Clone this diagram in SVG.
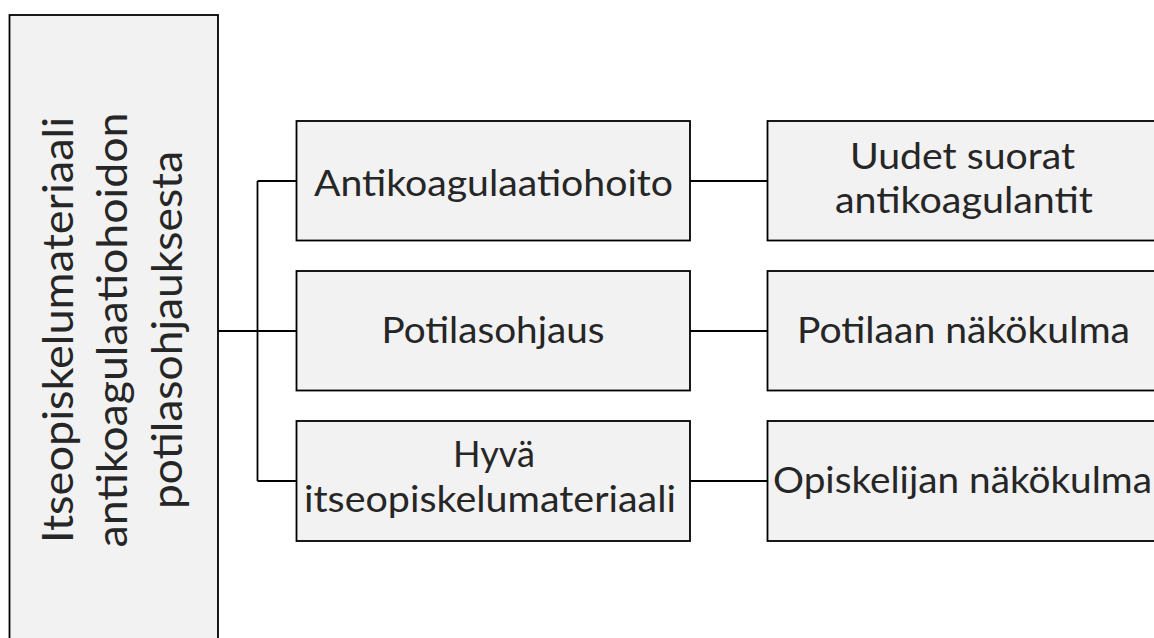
<svg xmlns="http://www.w3.org/2000/svg" width="1154" height="638" viewBox="0 0 1154 638">
<style>
.box{fill:#f2f2f2;stroke:#000;stroke-width:1.8}
.t{font-family:Lato,"Open Sans","Liberation Sans",sans-serif;font-size:37px;fill:#262626;text-anchor:middle}
.tv{font-family:Lato,"Open Sans","Liberation Sans",sans-serif;font-size:42px;fill:#262626;text-anchor:middle}
.c{fill:none;stroke:#000;stroke-width:1.8}
</style>
<rect width="1154" height="638" fill="#fff"/>
<g id="connectors">
<path class="c" d="M218 331H257.5M257.5 181V481M257.5 181H296.5M257.5 331H296.5M257.5 481H296.5"/>
<path class="c" d="M690 181H767.5M690 331H767.5M690 481H767.5"/>
</g>
<g id="root">
<rect class="box" x="9.5" y="15" width="208.5" height="650"/>
<text class="tv" transform="translate(73,330) rotate(-90)" textLength="426" lengthAdjust="spacingAndGlyphs">Itseopiskelumateriaali</text>
<text class="tv" transform="translate(127,330) rotate(-90)" textLength="435" lengthAdjust="spacingAndGlyphs">antikoagulaatiohoidon</text>
<text class="tv" transform="translate(182,330) rotate(-90)" textLength="358" lengthAdjust="spacingAndGlyphs">potilasohjauksesta</text>
</g>
<g id="n1">
<rect class="box" x="296.5" y="121" width="393.5" height="119.5"/>
<text class="t" x="493.5" y="196" textLength="359" lengthAdjust="spacingAndGlyphs">Antikoagulaatiohoito</text>
</g>
<g id="n2">
<rect class="box" x="296.5" y="271" width="393.5" height="119.5"/>
<text class="t" x="493" y="343" textLength="223" lengthAdjust="spacingAndGlyphs">Potilasohjaus</text>
</g>
<g id="n3">
<rect class="box" x="296.5" y="421" width="393.5" height="120"/>
<text class="t" x="494" y="467" textLength="82" lengthAdjust="spacingAndGlyphs">Hyvä</text>
<text class="t" x="490" y="512" textLength="372" lengthAdjust="spacingAndGlyphs">itseopiskelumateriaali</text>
</g>
<g id="r1">
<rect class="box" x="767.5" y="121" width="400" height="119.5"/>
<text class="t" x="962.5" y="169" textLength="225" lengthAdjust="spacingAndGlyphs">Uudet suorat</text>
<text class="t" x="964" y="213" textLength="258" lengthAdjust="spacingAndGlyphs">antikoagulantit</text>
</g>
<g id="r2">
<rect class="box" x="767.5" y="271" width="400" height="119.5"/>
<text class="t" x="963.5" y="343" textLength="333" lengthAdjust="spacingAndGlyphs">Potilaan näkökulma</text>
</g>
<g id="r3">
<rect class="box" x="767.5" y="421" width="400" height="120"/>
<text class="t" x="962.5" y="493" textLength="379" lengthAdjust="spacingAndGlyphs">Opiskelijan näkökulma</text>
</g>
</svg>
